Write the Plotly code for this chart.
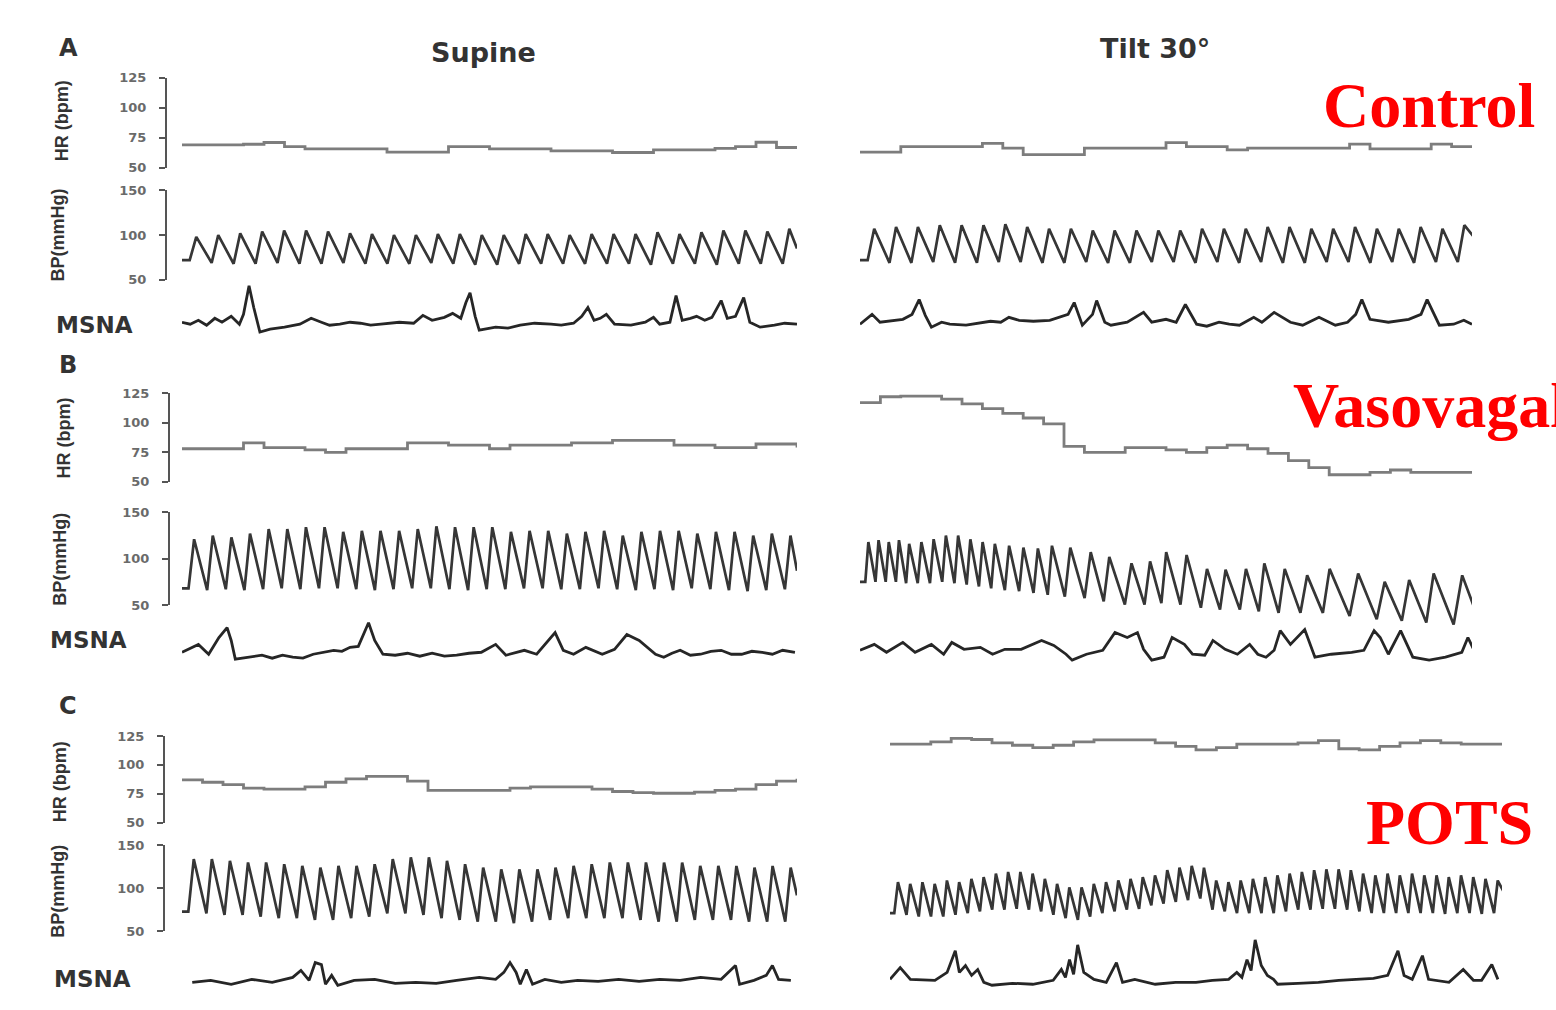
import plotly.graph_objects as go

W, H = 1556, 1010
T = 30.0  # seconds shown in each record

# ---------------- DATA ----------------
# Heart rate (bpm), sampled every 1 s
hr_a_supine = [69, 69, 69, 69.5, 71, 67.6, 65.7, 65.7, 65.7, 65.7, 63, 63, 63, 67.6, 67.6, 65.7,
               65.7, 65.7, 64, 64, 64, 62.6, 62.6, 64.8, 64.8, 64.8, 66, 67.6, 71.2, 66.8, 66.8]
hr_a_tilt = [63, 63, 67.6, 67.6, 67.6, 67.6, 70.3, 66.3, 60.8, 60.8, 60.8, 66.3, 66.3, 66.3, 66.3, 70.9,
             67.6, 67.6, 64.8, 66.3, 66.3, 66.3, 66.3, 66.3, 69.7, 65.7, 65.7, 65.7, 69.7, 67.6, 67.6]
hr_b_supine = [78, 78, 78, 83, 79, 79, 77, 75, 78, 78, 78, 83, 83, 81, 81, 78, 81, 81, 81, 83, 83, 85,
               85, 85, 81, 81, 79, 79, 82, 82, 79]
hr_b_tilt = [117, 122, 122.5, 122.5, 120, 116, 112, 108, 104, 99, 80, 75, 75, 79, 79, 77, 75, 79, 81,
             78, 74, 68, 62, 56, 56, 58, 60, 58, 58, 58, 59]
hr_c_supine = [87, 85, 83, 80, 79, 79, 81, 85, 88, 90, 90, 86, 78, 78, 78, 78, 80, 81, 81, 81, 79, 77,
               76, 75.5, 75.5, 76.5, 78, 79, 83, 86, 88]
hr_c_tilt = [118, 118, 120, 123, 122, 119, 117, 115, 117, 120, 121.6, 121.6, 121.6, 119, 116, 113, 115,
             118, 118, 118, 119, 121, 114, 113, 116, 119, 121, 119, 118, 118, 118]

# Blood pressure (mmHg): systolic peaks and diastolic troughs (last trough = value at record end)
bp_a_supine_sys = [98, 100, 102, 104, 105, 105, 104, 102, 101, 100, 100, 101, 101, 100, 100, 101, 101,
                   100, 101, 101, 101, 103, 101, 103, 105, 105, 104, 107]
bp_a_supine_dia = [72, 69, 68, 68, 69, 68, 68, 69, 68, 68, 68, 69, 68, 67, 67, 68, 68, 68, 68, 68, 68,
                   67, 68, 68, 67, 68, 68, 68, 85]
bp_a_tilt_sys = [107, 109, 109, 111, 111, 111, 112, 109, 107, 107, 105, 105, 105, 105, 105, 107, 107, 107,
                 109, 109, 107, 107, 109, 107, 107, 109, 107, 111]
bp_a_tilt_dia = [72, 69, 69, 70, 69, 69, 70, 70, 69, 69, 70, 69, 69, 70, 70, 69, 70, 69, 70, 69, 69, 70,
                 70, 69, 70, 69, 70, 70, 92]
bp_b_supine_sys = [121, 125, 123, 127, 132, 132, 134, 134, 129, 130, 130, 130, 132, 135, 134, 134, 134,
                   129, 130, 130, 127, 129, 130, 125, 129, 130, 130, 127, 129, 129, 125, 127, 125]
bp_b_supine_dia = [68, 66, 67, 66, 67, 68, 67, 68, 68, 67, 66, 67, 68, 68, 67, 66, 67, 67, 68, 68, 67,
                   67, 68, 67, 66, 67, 66, 68, 67, 66, 65, 66, 67, 87]
bp_b_tilt_peak_t = [0.41, 0.91, 1.41, 1.91, 2.41, 3.01, 3.61, 4.21, 4.81, 5.41, 6.01, 6.61, 7.31, 8.01,
                    8.72, 9.41, 10.31, 11.31, 12.22, 13.31, 14.22, 15.01, 16.01, 17.01, 17.92, 18.92,
                    19.82, 20.82, 21.92, 23.02, 24.42, 25.72, 26.92, 28.12, 29.52]
bp_b_tilt_sys = [118, 120, 118, 120, 116, 118, 121, 125, 125, 121, 118, 116, 114, 112, 111, 114, 112,
                 107, 102, 95, 97, 107, 104, 89, 88, 89, 95, 89, 82, 89, 84, 75, 77, 84, 82]
bp_b_tilt_dia = [75, 75, 75, 75, 73.5, 73.5, 73.5, 75, 73.5, 72, 70, 68, 66, 65, 63, 61, 59, 57.5, 54,
                 50.5, 50.5, 52, 50.5, 47, 45, 45, 43, 41.5, 41.5, 41.5, 38, 34.5, 33, 31, 29, 36]
bp_c_supine_sys = [134, 134, 132, 130, 130, 128, 126, 124, 126, 126, 128, 134, 136, 136, 132, 128, 124,
                   122, 122, 122, 124, 126, 128, 130, 130, 130, 130, 130, 126, 126, 126, 124, 126, 124]
bp_c_supine_dia = [72.6, 70.7, 68.8, 68.8, 66.9, 65, 65, 63, 63, 65, 66.9, 70.7, 70.7, 68.8, 65, 63, 61,
                   61, 59.2, 61, 63, 65, 65, 65, 65, 63, 61, 61, 63, 63, 63, 61, 61, 61, 91.7]
bp_c_tilt_sys = [107, 105, 107, 105, 109, 107, 111, 113, 117, 119, 119, 117, 111, 105, 101, 101, 105,
                 107, 109, 111, 113, 115, 121, 124, 126, 124, 109, 107, 109, 111, 113, 115, 117, 119,
                 121, 122, 122, 121, 117, 115, 117, 115, 117, 115, 115, 113, 115, 113, 111, 109]
bp_c_tilt_dia = [71, 69, 67, 67, 67, 69, 71, 73, 75, 75, 76, 75, 73, 69, 65, 63, 67, 71, 73, 75, 76, 80,
                 82, 84, 86, 88, 75, 73, 71, 71, 71, 71, 73, 75, 75, 76, 76, 75, 73, 71, 71, 71, 71, 71,
                 71, 70, 71, 71, 70, 71, 86]

# MSNA (arbitrary units): time (s) and amplitude
msna_a_supine_t = [0, 0.4, 0.8, 1.2, 1.6, 1.95, 2.4, 2.8, 3.0, 3.27, 3.5, 3.8, 4.3, 5.0, 5.75, 6.3, 6.8,
                   7.2, 7.7, 8.2, 8.7, 9.2, 9.7, 10.1, 10.6, 11.3, 11.75, 12.2, 12.8, 13.2, 13.6, 13.85,
                   14.05, 14.3, 14.5, 15.3, 15.9, 16.5, 17.2, 18.0, 18.5, 19.1, 19.5, 19.8, 20.1, 20.4,
                   20.7, 21.1, 21.9, 22.6, 23.0, 23.3, 23.8, 24.1, 24.4, 24.8, 25.1, 25.5, 25.85, 26.3,
                   26.6, 27.0, 27.4, 27.7, 28.2, 28.9, 29.4, 30.0]
msna_a_supine_v = [2, 0, 4, -1, 6, 2, 8, 0, 10, 39, 17, -8, -5, -3, 0, 6, 2, -1, 0, 2, 1, -1, 0, 1, 2,
                   1, 9, 4, 7, 11, 6, 22, 32, 8, -6, -3, -4, -1, 1, 0, -1, 1, 8, 17, 4, 6, 10, 0, -1, 2,
                   7, 0, 2, 29, 4, 6, 8, 4, 7, 24, 6, 8, 27, 2, -3, -1, 1, 0]
msna_a_tilt_t = [0, 0.59, 0.98, 2.1, 2.55, 2.9, 3.2, 3.5, 4.0, 4.4, 5.2, 5.9, 6.4, 6.9, 7.3, 7.8, 8.5,
                 9.3, 10.2, 10.5, 10.9, 11.4, 11.6, 12.0, 12.3, 13.1, 13.6, 13.9, 14.3, 15.0, 15.5,
                 15.95, 16.5, 17.0, 17.6, 18.1, 18.6, 19.3, 19.7, 20.3, 21.1, 21.7, 22.5, 23.3, 23.9,
                 24.3, 24.6, 25.0, 25.9, 26.9, 27.5, 27.8, 28.4, 29.1, 29.6, 30.0]
msna_a_tilt_v = [0, 10, 2, 5, 10, 25, 9, -3, 2, 0, -1, 1, 3, 2, 7, 4, 3, 4, 10, 22, -1, 10, 24, 2, -1,
                 2, 8, 12, 2, 5, 2, 20, 0, -2, 2, 0, -1, 7, 2, 12, 2, -1, 7, -1, 2, 10, 25, 5, 2, 5,
                 10, 25, -1, 0, 4, 0]
msna_b_supine_t = [0, 0.8, 1.3, 1.8, 2.2, 2.4, 2.6, 3.4, 3.9, 4.4, 4.9, 5.4, 5.9, 6.4, 6.9, 7.4, 7.8,
                   8.2, 8.6, 9.1, 9.4, 9.8, 10.4, 11.0, 11.6, 12.2, 12.8, 13.4, 14.0, 14.6, 15.3, 15.8,
                   16.7, 17.3, 18.2, 18.6, 19.1, 19.7, 20.5, 21.1, 21.7, 22.3, 23.1, 23.5, 23.9, 24.3,
                   24.8, 25.3, 25.8, 26.3, 26.8, 27.3, 27.8, 28.3, 28.8, 29.3, 29.9]
msna_b_supine_v = [0, 8, -2, 15, 25, 12, -7, -5, -3, -6, -3, -5, -6, -2, 0, 2, 1, 5, 6, 30, 12, -2, -3,
                   -1, -4, -1, -4, -3, -1, 0, 8, -3, 2, -2, 20, 2, -2, 5, -2, 3, 18, 12, -2, -5, -1, 2,
                   -3, -2, 1, 2, -2, -2, 1, 0, -2, 2, 0]
msna_b_tilt_t = [0, 0.7, 1.3, 2.1, 2.7, 3.5, 4.1, 4.5, 5.1, 5.9, 6.5, 7.1, 7.9, 8.9, 9.5, 10.1, 10.4,
                 11.1, 11.9, 12.5, 13.1, 13.6, 13.9, 14.3, 14.9, 15.3, 15.9, 16.3, 16.9, 17.3, 17.9,
                 18.5, 19.1, 19.5, 19.9, 20.3, 20.6, 21.1, 21.8, 22.3, 23.1, 24.1, 24.7, 25.2, 25.5,
                 25.9, 26.5, 27.1, 27.9, 28.7, 29.5, 29.8, 30.1]
msna_b_tilt_v = [2, 8, 0, 10, 0, 8, -2, 10, 3, 5, -2, 3, 3, 12, 7, -2, -8, -2, 2, 20, 15, 20, 3, -8, -5,
                 15, 8, -2, -3, 12, 3, -2, 8, -2, -5, 2, 22, 8, 23, -5, -2, 0, 2, 22, 15, -2, 22, -5,
                 -8, -5, 0, 15, 2]
msna_c_supine_t = [0.5, 1.4, 2.4, 3.4, 4.4, 5.4, 5.8, 6.2, 6.5, 6.8, 7.0, 7.3, 7.6, 8.4, 9.4, 10.4, 11.4,
                   12.4, 13.4, 14.5, 15.3, 15.7, 16.0, 16.3, 16.5, 16.8, 17.1, 17.7, 18.5, 19.3, 20.3,
                   21.3, 22.3, 23.3, 24.3, 25.3, 26.3, 27.0, 27.2, 27.9, 28.5, 28.8, 29.1, 29.7]
msna_c_supine_v = [0, 2, -2, 3, 0, 5, 12, 2, 20, 18, -2, 7, -3, 2, 3, -1, 0, -1, 2, 5, 3, 10, 20, 10, -2,
                   13, -2, 3, 0, 2, 1, 3, 1, 3, 2, 5, 3, 17, -2, 2, 7, 17, 3, 2]
msna_c_tilt_t = [0, 0.5, 1.0, 2.2, 2.8, 3.2, 3.4, 3.7, 4.0, 4.3, 4.6, 5.0, 6.0, 7.0, 8.0, 8.4, 8.6, 8.8,
                 9.0, 9.2, 9.5, 10.0, 10.6, 11.1, 11.4, 12.0, 13.0, 14.0, 15.0, 15.8, 16.6, 17.0, 17.25,
                 17.5, 17.7, 17.9, 18.2, 18.5, 18.8, 19.0, 20.0, 21.0, 22.0, 23.0, 23.7, 24.4, 24.9,
                 25.2, 25.6, 26.1, 26.4, 27.4, 28.1, 28.6, 29.0, 29.5, 29.8]
msna_c_tilt_v = [1, 13, 1, 0, 8, 30, 8, 15, 5, 11, -2, -5, -3, -4, 0, 11, 3, 21, 6, 36, 8, 1, -2, 18, -2,
                 1, -4, -2, -2, 0, 1, 8, 3, 21, 10, 41, 15, 5, 1, -4, -3, -2, 0, 1, 2, 5, 30, 5, 1, 25,
                 1, -2, 11, 0, 0, 16, 1]

# Text
col_titles = ["Supine", "Tilt 30°"]
panel_letters = ["A", "B", "C"]
group_labels = ["Control", "Vasovagal", "POTS"]
hr_ticks = [50, 75, 100, 125]
bp_ticks = [50, 100, 150]

# ---------------- HELPERS ----------------
def xdom(p0, p1):
    return [p0 / W, p1 / W]


def ydom(ptop, pbot):
    return [1 - pbot / H, 1 - ptop / H]


def yrange(va, pa, vb, pb, ptop, pbot):
    s = (vb - va) / (pb - pa)
    return [va + (pbot - pa) * s, va + (ptop - pa) * s]


def beat_wave(peak_t, sys, dia, t_end):
    xs, ys = [0.0], [dia[0]]
    for i, (tp, s) in enumerate(zip(peak_t, sys)):
        prev = peak_t[i - 1] if i > 0 else tp - (peak_t[1] - peak_t[0])
        up = 0.3 * (tp - prev)
        xs += [tp - up, tp]
        ys += [dia[i], s]
    xs.append(t_end)
    ys.append(dia[-1])
    return xs, ys


def even_peaks(n):
    return [T * (i + 0.65) / n for i in range(n)]


def hr_times(vals):
    n = len(vals)
    return [T * i / (n - 1) for i in range(n)]


fig = go.Figure()
layout = {}

HR_C, BP_C, MS_C = "#7d7d7d", "#363636", "#262626"

layout["xaxis"] = dict(domain=xdom(182, 797), range=[0, T], visible=False)
layout["xaxis2"] = dict(domain=xdom(860, 1472), range=[0, T], visible=False)
layout["xaxis3"] = dict(domain=xdom(890, 1502), range=[0, T], visible=False)

rows = [
    dict(hr=(72, 163), bp=(186, 277), ms=(322, 322), axx=166, hrw=(55, 178), bpw=(178, 290), msw=(265, 342),
         xr="x2",
         hr_l=hr_a_supine, hr_r=hr_a_tilt,
         bp_l=(even_peaks(len(bp_a_supine_sys)), bp_a_supine_sys, bp_a_supine_dia),
         bp_r=(even_peaks(len(bp_a_tilt_sys)), bp_a_tilt_sys, bp_a_tilt_dia),
         ms_l=(msna_a_supine_t, msna_a_supine_v), ms_r=(msna_a_tilt_t, msna_a_tilt_v)),
    dict(hr=(392, 482), bp=(513, 607), ms=(655, 655), axx=169, hrw=(380, 495), bpw=(498, 640), msw=(608, 680),
         xr="x2",
         hr_l=hr_b_supine, hr_r=hr_b_tilt,
         bp_l=(even_peaks(len(bp_b_supine_sys)), bp_b_supine_sys, bp_b_supine_dia),
         bp_r=(bp_b_tilt_peak_t, bp_b_tilt_sys, bp_b_tilt_dia),
         ms_l=(msna_b_supine_t, msna_b_supine_v), ms_r=(msna_b_tilt_t, msna_b_tilt_v)),
    dict(hr=(740, 828), bp=(851, 938), ms=(990, 988), axx=164, hrw=(728, 840), bpw=(842, 948), msw=(935, 1008),
         xr="x3",
         hr_l=hr_c_supine, hr_r=hr_c_tilt,
         bp_l=(even_peaks(len(bp_c_supine_sys)), bp_c_supine_sys, bp_c_supine_dia),
         bp_r=(even_peaks(len(bp_c_tilt_sys)), bp_c_tilt_sys, bp_c_tilt_dia),
         ms_l=(msna_c_supine_t, msna_c_supine_v), ms_r=(msna_c_tilt_t, msna_c_tilt_v)),
]

tickfont = dict(family="DejaVu Sans", size=13, color="#6a6a6a", weight="bold")


def vis_axis(domain, rng, pos, tv):
    return dict(domain=domain, range=rng, anchor="free", position=pos / W, side="left",
                showline=True, linecolor="#555", linewidth=2, ticks="outside", ticklen=6,
                tickwidth=2, tickcolor="#555", tickvals=tv, ticktext=[str(v) for v in tv],
                tickfont=tickfont, ticklabelstandoff=10, showgrid=False, zeroline=False)


def add(xs, ys, xa, ya, color, width, shape="linear"):
    fig.add_trace(go.Scatter(x=xs, y=ys, xaxis=xa, yaxis=ya, mode="lines",
                             line=dict(color=color, width=width, shape=shape),
                             showlegend=False, hoverinfo="skip"))


k = 1
for r in rows:
    ids = list(range(k, k + 6))
    names = ["yaxis" if i == 1 else f"yaxis{i}" for i in ids]
    refs = ["y" if i == 1 else f"y{i}" for i in ids]
    layout[names[0]] = vis_axis(ydom(*r["hr"]), [50, 125], r["axx"], hr_ticks)
    layout[names[1]] = vis_axis(ydom(*r["bp"]), [50, 150], r["axx"], bp_ticks)
    b = r["ms"][0]
    layout[names[2]] = dict(domain=ydom(*r["msw"]), range=yrange(0, b, 10, b - 10, *r["msw"]),
                            visible=False, anchor="x")
    layout[names[3]] = dict(domain=ydom(*r["hrw"]), range=yrange(125, r["hr"][0], 50, r["hr"][1], *r["hrw"]),
                            visible=False, anchor=r["xr"])
    layout[names[4]] = dict(domain=ydom(*r["bpw"]), range=yrange(150, r["bp"][0], 50, r["bp"][1], *r["bpw"]),
                            visible=False, anchor=r["xr"])
    b2 = r["ms"][1]
    layout[names[5]] = dict(domain=ydom(*r["msw"]), range=yrange(0, b2, 10, b2 - 10, *r["msw"]),
                            visible=False, anchor=r["xr"])

    add(hr_times(r["hr_l"]), r["hr_l"], "x", refs[0], HR_C, 2.8, "hv")
    xs, ys = beat_wave(*r["bp_l"], T)
    add(xs, ys, "x", refs[1], BP_C, 2.7)
    add(r["ms_l"][0], r["ms_l"][1], "x", refs[2], MS_C, 2.8)

    add(hr_times(r["hr_r"]), r["hr_r"], r["xr"], refs[3], HR_C, 2.8, "hv")
    xs, ys = beat_wave(*r["bp_r"], T + 0.3)
    add(xs, ys, r["xr"], refs[4], BP_C, 2.7)
    add(r["ms_r"][0], r["ms_r"][1], r["xr"], refs[5], MS_C, 2.8)
    k += 6

# ---------------- ANNOTATIONS ----------------
ann = []


def txt(text, px, py, size, family="DejaVu Sans", color="#333", weight="bold", angle=0,
        xanchor="center"):
    ann.append(dict(text=text, x=px / W, y=1 - py / H, xref="paper", yref="paper", showarrow=False,
                    xanchor=xanchor, yanchor="middle", textangle=angle,
                    font=dict(family=family, size=size, color=color, weight=weight)))


for letter, py in zip(panel_letters, [42, 363, 710]):
    txt(letter, 68, py, 24)
txt(col_titles[0], 483, 46, 27)
txt(col_titles[1], 1155, 42, 27)

for (hx, hy), (bx, by), (mx, my) in [((62, 116), (58, 232), (94, 323)),
                                     ((64, 437), (60, 561), (88, 643)),
                                     ((60, 787), (58, 898), (92, 987))]:
    txt("HR (bpm)", hx, hy, 18, family="Liberation Sans", angle=-90)
    txt("BP(mmHg)", bx, by, 18, family="Liberation Sans", angle=-90)
    txt("MSNA", mx, my, 23)

for label, (px, py) in zip(group_labels, [(1321, 100), (1291, 405), (1364, 828)]):
    txt(label, px, py, 64, family="Liberation Serif", color="#ff0000", xanchor="left")

fig.update_layout(width=W, height=H, margin=dict(l=0, r=0, t=0, b=0),
                  paper_bgcolor="white", plot_bgcolor="rgba(0,0,0,0)", showlegend=False,
                  annotations=ann, **layout)

fig.write_html("out.html", config={"displayModeBar": False, "staticPlot": True},
               post_script="document.body.style.margin='0';document.body.style.overflow='hidden';")
